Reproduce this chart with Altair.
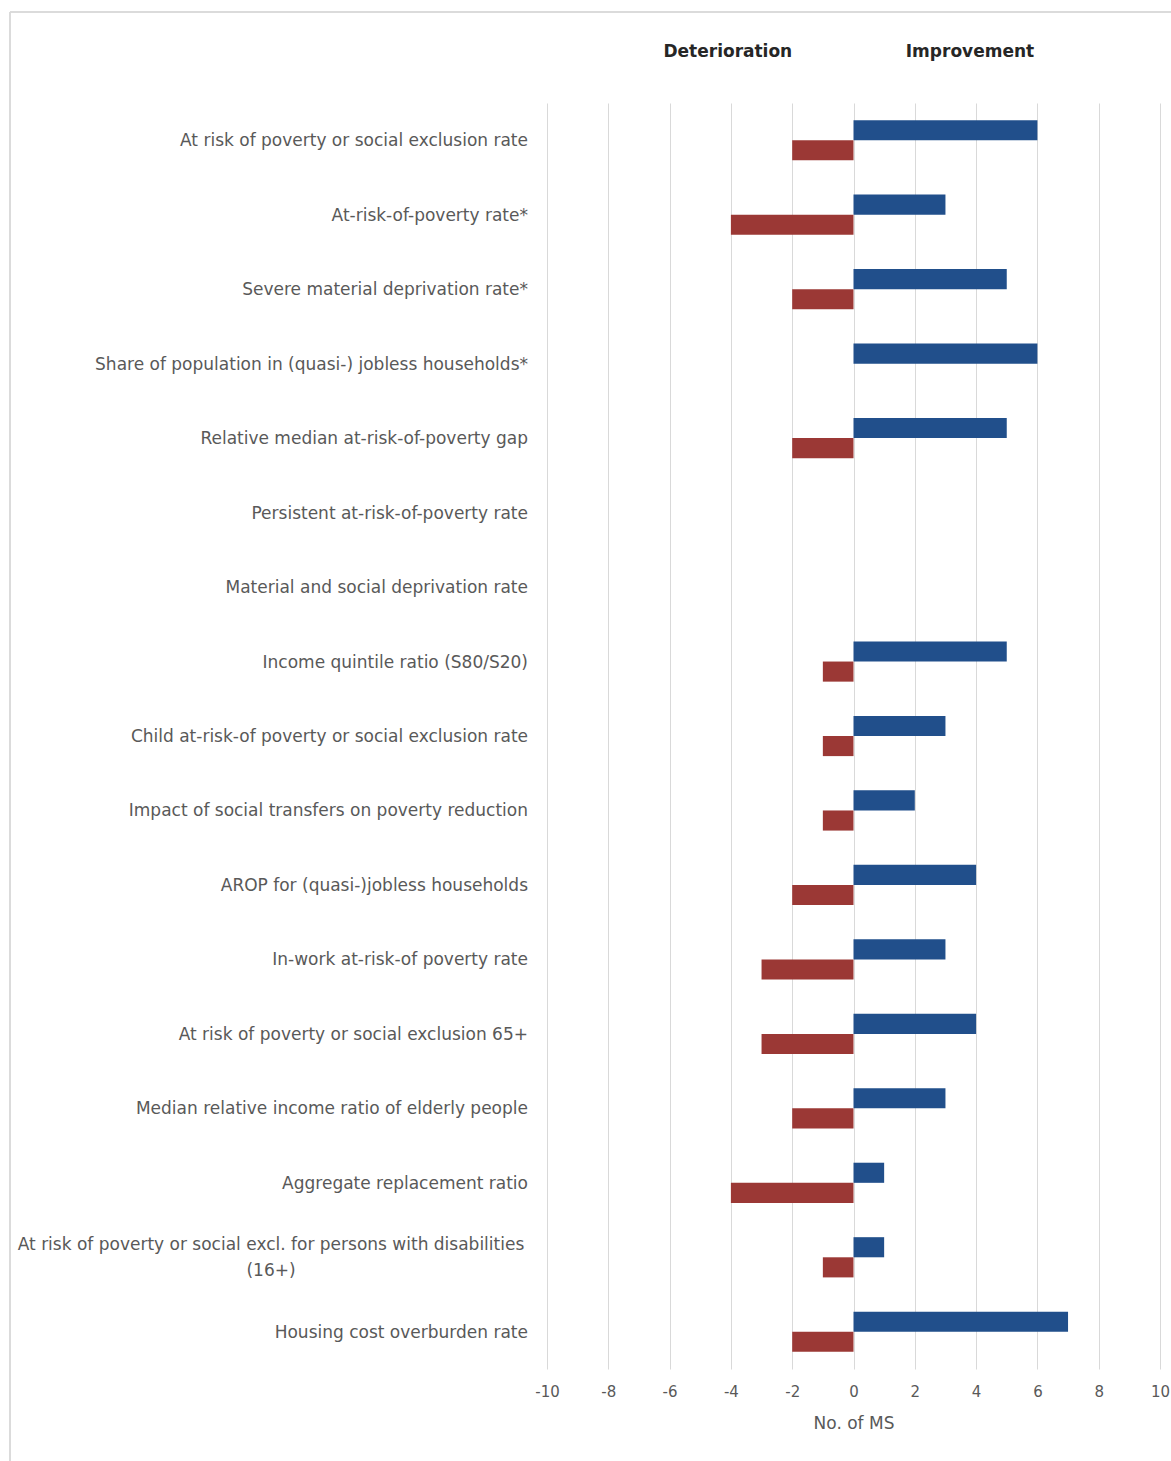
import altair as alt
import pandas as pd

# Indicators, top to bottom
categories = [
    "At risk of poverty or social exclusion rate",
    "At-risk-of-poverty rate*",
    "Severe material deprivation rate*",
    "Share of population in (quasi-) jobless households*",
    "Relative median at-risk-of-poverty gap",
    "Persistent at-risk-of-poverty rate",
    "Material and social deprivation rate",
    "Income quintile ratio (S80/S20)",
    "Child at-risk-of poverty or social exclusion rate",
    "Impact of social transfers on poverty reduction",
    "AROP for (quasi-)jobless households",
    "In-work at-risk-of poverty rate",
    "At risk of poverty or social exclusion 65+",
    "Median relative income ratio of elderly people",
    "Aggregate replacement ratio",
    "At risk of poverty or social excl. for persons with disabilities\n(16+)",
    "Housing cost overburden rate",
]

# Number of Member States per indicator
improvement = [6, 3, 5, 6, 5, 0, 0, 5, 3, 2, 4, 3, 4, 3, 1, 1, 7]
deterioration = [-2, -4, -2, 0, -2, 0, 0, -1, -1, -1, -2, -3, -3, -2, -4, -1, -2]

series_names = ["Improvement", "Deterioration"]
series_colors = ["#214F8B", "#9B3835"]

header_labels = ["Deterioration", "Improvement"]
header_pos = [-4.1, 3.8]

x_ticks = list(range(-10, 11, 2))

GREY = "#595959"
GRID = "#D9D9D9"
FONT = "DejaVu Sans"

bars_df = pd.DataFrame(
    [{"category": c, "series": "Improvement", "value": v} for c, v in zip(categories, improvement)]
    + [{"category": c, "series": "Deterioration", "value": v} for c, v in zip(categories, deterioration)]
)

labels_df = pd.DataFrame(
    {
        "category": categories,
        "two_line": ["\n" in c for c in categories],
    }
)

headers_df = pd.DataFrame({"label": header_labels, "pos": header_pos})

y_enc = alt.Y(
    "category:N",
    sort=categories,
    scale=alt.Scale(paddingInner=0.46, paddingOuter=0.23),
    axis=None,
)

bars = (
    alt.Chart(bars_df)
    .mark_bar()
    .encode(
        x=alt.X(
            "value:Q",
            scale=alt.Scale(domain=[-10, 10], nice=False),
            axis=alt.Axis(
                values=x_ticks,
                labelExpr="toString(datum.value)",
                labelFlush=False,
                grid=True,
                gridColor=GRID,
                gridWidth=1,
                domain=False,
                ticks=False,
                labelColor=GREY,
                labelFont=FONT,
                labelFontSize=15,
                labelPadding=15,
                title="No. of MS",
                titleColor=GREY,
                titleFont=FONT,
                titleFontSize=17,
                titleFontWeight="normal",
                titlePadding=16,
            ),
        ),
        y=y_enc,
        yOffset=alt.YOffset("series:N", sort=series_names),
        color=alt.Color(
            "series:N",
            scale=alt.Scale(domain=series_names, range=series_colors),
            legend=None,
        ),
    )
)

single_labels = (
    alt.Chart(labels_df)
    .transform_filter("!datum.two_line")
    .mark_text(align="right", baseline="middle", font=FONT, fontSize=17, color=GREY, dy=1)
    .encode(x=alt.value(-19), y=y_enc, text="category:N")
)

double_labels = (
    alt.Chart(labels_df)
    .transform_filter("datum.two_line")
    .mark_text(
        align="center",
        baseline="middle",
        font=FONT,
        fontSize=17,
        color=GREY,
        lineBreak="\n",
        lineHeight=26,
        dy=-12,
    )
    .encode(x=alt.value(-276), y=y_enc, text="category:N")
)

headers = (
    alt.Chart(headers_df)
    .mark_text(align="center", baseline="middle", font=FONT, fontSize=17, fontWeight="bold", color="#262626")
    .encode(x=alt.X("pos:Q"), y=alt.value(-51), text="label:N")
)

# light frame around the figure (top and left edges)
frame_top = alt.Chart(headers_df).mark_rule(color=GRID, strokeWidth=1.5).encode(
    x=alt.value(-537), x2=alt.value(640), y=alt.value(-91)
)
frame_left = alt.Chart(headers_df).mark_rule(color=GRID, strokeWidth=1.5).encode(
    x=alt.value(-537), y=alt.value(-91), y2=alt.value(1400)
)

chart = (
    alt.layer(frame_top, frame_left, bars, single_labels, double_labels, headers)
    .properties(
        width=613,
        height=1266,
        autosize=alt.AutoSizeParams(type="none"),
        padding={"left": 547, "top": 103, "right": 11, "bottom": 92},
        background="white",
    )
    .configure_view(stroke=None)
)

chart.save("out.html", embed_options={"renderer": "svg", "actions": False})
